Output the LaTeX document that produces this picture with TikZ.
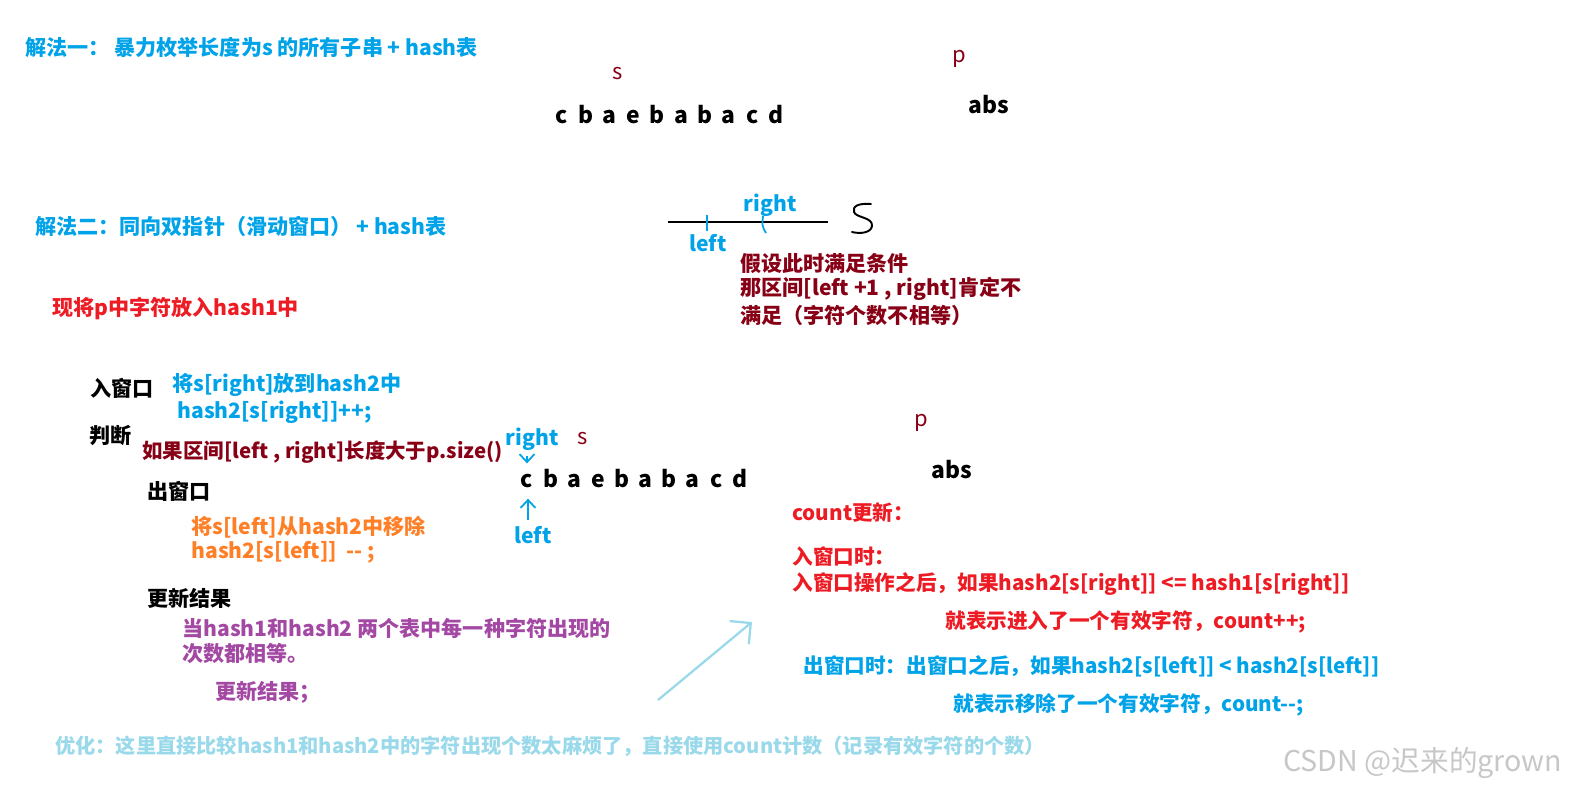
\documentclass[tikz,border=0pt]{standalone}
\usepackage{fontspec}
\setmainfont{Noto Sans CJK SC}
\usepackage{tikz}
\usetikzlibrary{arrows.meta,positioning,calc}
\definecolor{cBlue}{HTML}{00A2E8}
\definecolor{cDred}{HTML}{880015}
\definecolor{cRed}{HTML}{ED1C24}
\definecolor{cOrange}{HTML}{FF7F27}
\definecolor{cPurple}{HTML}{A349A4}
\definecolor{cLblue}{HTML}{99D9EA}

\tikzset{
  lbl/.style={anchor=west},
  cnt/.style={anchor=west, font=\fontsize{11.75}{15}\selectfont\bfseries},
  chr/.style={anchor=base, font=\fontsize{13}{15}\selectfont\bfseries},
  var/.style={anchor=base, font=\fontsize{12.5}{15}\selectfont, text=cDred},
  ptr/.style={cBlue, line width=1pt, -{Straight Barb[length=1.6mm,width=3mm]}},
}

\begin{document}
\begin{tikzpicture}[x=0.02cm, y=-0.02cm, every node/.style={inner sep=0pt, font=\fontsize{12}{15}\selectfont\bfseries}]
  \useasboundingbox (0,0) rectangle (1574,792);

  % method one
  \node[lbl, text=cBlue] (m1) at (25,47) {解法一：\ 暴力枚举长度为s 的所有子串 + hash表};
  \node[var] (s1) at (618,79) {s};
  \node[var] (p1) at (959,62) {p};
  \node[chr] (abs1) at (989,113) {abs};
  \foreach \ch [count=\i] in {c,b,a,e,b,a,b,a,c,d}
    \node[chr] (a\i) at ({562+23.8*(\i-1)},123) {\ch};

  % method two
  \node[lbl, text=cBlue] (m2) at (35,226) {解法二：同向双指针（滑动窗口） + hash表};
  \coordinate (w0) at (668,222);
  \coordinate (w1) at (828,222);
  \draw[line width=1pt] (w0) -- (w1);
  \draw[cBlue, line width=1pt] (707,215) -- (707,231);
  \draw[cBlue, line width=1pt] (763,216) .. controls (762,226) .. (766,233);
  \node[text=cBlue] (wr) at (770,205) {right};
  \node[text=cBlue] (wl) at (708,243) {left};
  \draw[line width=1.1pt, line cap=round, line join=round]
    (871,204) .. controls (859,203) and (852,206) .. (854,212)
    .. controls (856,218) and (873,217) .. (872,226)
    .. controls (871,233) and (860,234) .. (852,232);
  \node[lbl, text=cDred] (h1) at (740,263) {假设此时满足条件};
  \node[lbl, text=cDred] (h2) at (740,289) {那区间[left +1 , right]肯定不};
  \node[lbl, text=cDred] (h3) at (740,315) {满足（字符个数不相等）};

  \node[lbl, text=cRed] (q0) at (52,309) {现将p中字符放入hash1中};

  % steps
  \node[lbl] (st1) at (90,388) {入窗口};
  \node[lbl, text=cBlue] (st1a) at (172,385) {将s[right]放到hash2中};
  \node[lbl, text=cBlue] (st1b) at (177,412) {hash2[s[right]]++;};
  \node[lbl] (st2) at (89,436) {判断};
  \node[cnt, font=\fontsize{11.65}{15}\selectfont\bfseries, text=cDred] (st2a) at (142,452) {如果区间[left , right]长度大于p.size()};
  \node[lbl] (st3) at (147,491) {出窗口};
  \node[lbl, text=cOrange] (st3a) at (191,527) {将s[left]从hash2中移除};
  \node[lbl, text=cOrange] (st3b) at (191,552) {hash2[s[left]]\ \ -{}- ;};
  \node[lbl] (st4) at (147,598) {更新结果};
  \node[lbl, text=cPurple] (st4a) at (182,628) {当hash1和hash2 两个表中每一种字符出现的};
  \node[lbl, text=cPurple] (st4b) at (182,653) {次数都相等。};
  \node[lbl, text=cPurple] (st4c) at (215,692) {更新结果；};

  % window on s
  \node[text=cBlue] (r2) at (532,439) {right};
  \node[var] (s2) at (583,444) {s};
  \foreach \ch [count=\i] in {c,b,a,e,b,a,b,a,c,d}
    \node[chr] (b\i) at ({527+23.7*(\i-1)},487) {\ch};
  \node[text=cBlue] (l2) at (533,535) {left};
  \draw[ptr] ($(r2.south -| b1)+(0,5)$) -- ($(b1.north)+(0,-10)$);
  \draw[ptr] ($(l2.north -| b1)+(1,-6)$) -- ($(b1.south)+(1,11)$);

  \node[var] (p2) at (921,426) {p};
  \node[chr] (abs2) at (952,478) {abs};

  % count
  \node[cnt, text=cRed] (c0) at (792,513) {count更新：};
  \node[cnt, text=cRed] (c1) at (792,557) {入窗口时：};
  \node[cnt, text=cRed] (c2) at (792,584) {入窗口操作之后，如果hash2[s[right]] <= hash1[s[right]]};
  \node[cnt, text=cRed] (c3) at (945,622) {就表示进入了一个有效字符，count++;};
  \node[cnt, text=cBlue] (c4) at (803,666) {出窗口时：出窗口之后，如果hash2[s[left]] < hash2[s[left]]};
  \node[cnt, text=cBlue] (c5) at (953,705) {就表示移除了一个有效字符，count-{}-;};

  \coordinate (t0) at (658,700);
  \coordinate (t1) at (752,622);
  \draw[cLblue, line width=1.3pt, -{Straight Barb[length=3mm,width=6mm]}] (t0) -- (t1);

  \node[lbl, font=\fontsize{11.5}{14}\selectfont\bfseries, text=cLblue] (opt) at (55,746) {优化：这里直接比较hash1和hash2中的字符出现个数太麻烦了，直接使用count计数（记录有效字符的个数）};
  \node[lbl, font=\fontsize{16.3}{18}\selectfont, text=black!22] (wm) at (1283,763) {CSDN @迟来的grown};
\end{tikzpicture}
\end{document}
